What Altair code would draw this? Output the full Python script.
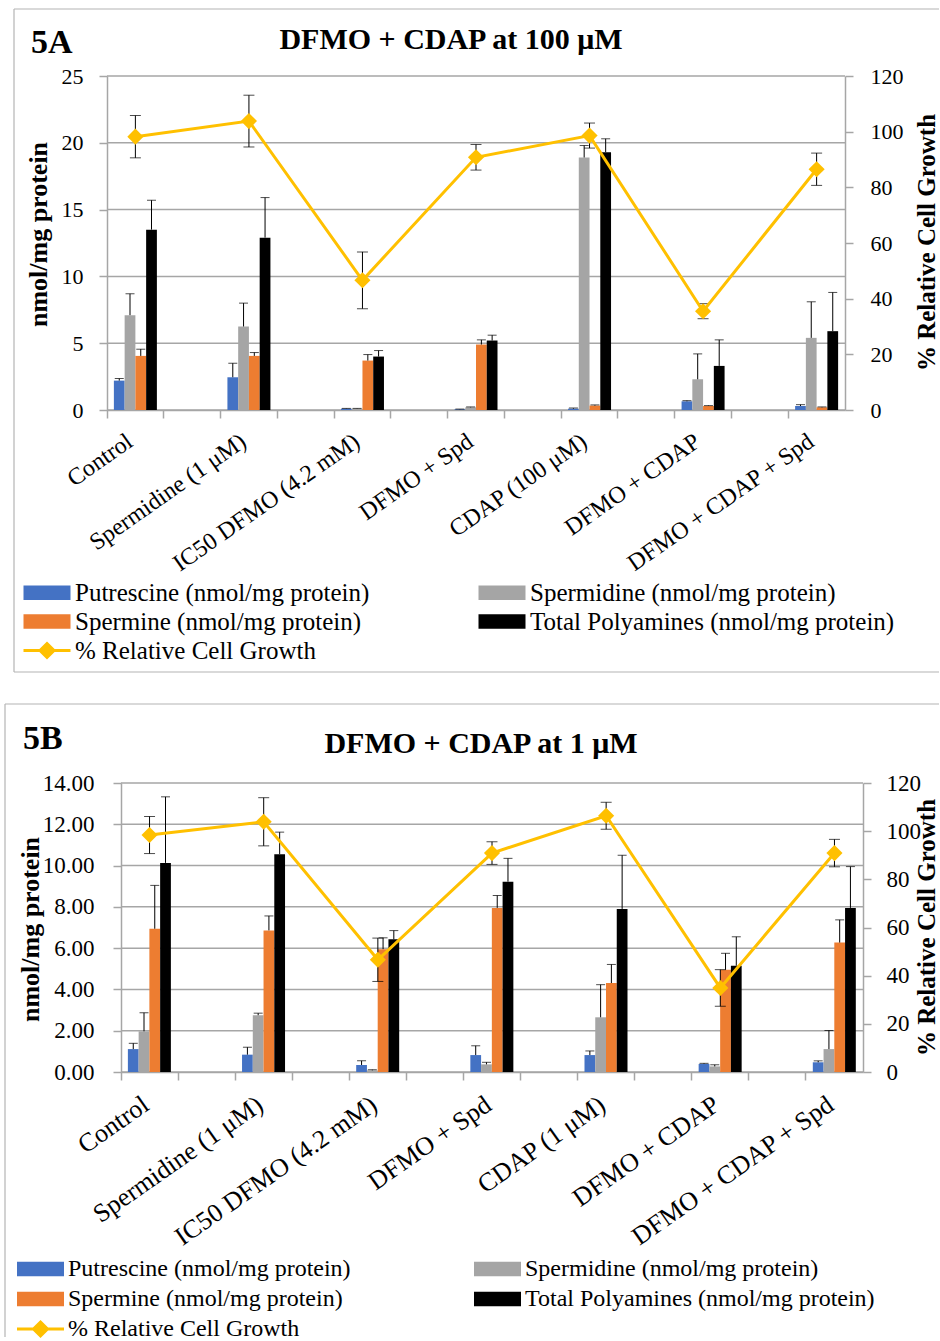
import altair as alt
import pandas as pd

# ---------------- data ----------------
SERIES = ["Putrescine (nmol/mg protein)", "Spermidine (nmol/mg protein)",
          "Spermine (nmol/mg protein)", "Total Polyamines (nmol/mg protein)"]
SERIES_COLORS = ["#4472C4", "#A5A5A5", "#ED7D31", "#000000"]
GROWTH_NAME = "% Relative Cell Growth"
LINE_COLOR = "#FFC000"

cats_a = ["Control", "Spermidine (1 μM)", "IC50 DFMO (4.2 mM)", "DFMO + Spd",
          "CDAP (100 μM)", "DFMO + CDAP", "DFMO + CDAP + Spd"]
a_put = [2.2, 2.45, 0.1, 0.05, 0.1, 0.65, 0.3]
a_put_err = [0.15, 1.05, 0.02, 0.02, 0.05, 0.05, 0.1]
a_spd = [7.1, 6.25, 0.1, 0.2, 18.9, 2.3, 5.4]
a_spd_err = [1.6, 1.75, 0.02, 0.03, 0.9, 1.9, 2.7]
a_spm = [4.05, 4.05, 3.7, 4.9, 0.33, 0.3, 0.2]
a_spm_err = [0.5, 0.25, 0.45, 0.35, 0.05, 0.03, 0.03]
a_tot = [13.5, 12.9, 4.0, 5.2, 19.3, 3.3, 5.9]
a_tot_err = [2.2, 3.0, 0.45, 0.4, 1.0, 1.95, 2.9]
a_growth = [98.2, 103.8, 46.6, 90.8, 98.6, 35.5, 86.5]
a_growth_err = [7.6, 9.3, 10.2, 4.6, 4.5, 2.7, 5.8]

cats_b = ["Control", "Spermidine (1 μM)", "IC50 DFMO (4.2 mM)", "DFMO + Spd",
          "CDAP (1 μM)", "DFMO + CDAP", "DFMO + CDAP + Spd"]
b_put = [1.11, 0.84, 0.34, 0.82, 0.82, 0.39, 0.47]
b_put_err = [0.28, 0.36, 0.2, 0.45, 0.2, 0.03, 0.07]
b_spd = [1.97, 2.75, 0.08, 0.37, 2.65, 0.27, 1.11]
b_spd_err = [0.9, 0.1, 0.03, 0.1, 1.58, 0.08, 0.9]
b_spm = [6.94, 6.86, 5.95, 7.95, 4.31, 4.95, 6.27]
b_spm_err = [2.1, 0.7, 0.55, 0.6, 0.9, 0.8, 1.1]
b_tot = [10.13, 10.55, 6.43, 9.22, 7.9, 5.15, 7.95]
b_tot_err = [3.2, 1.07, 0.42, 1.13, 2.6, 1.4, 2.0]
b_growth = [98.4, 103.9, 46.6, 90.9, 106.4, 34.9, 90.9]
b_growth_err = [7.7, 10.0, 9.0, 4.7, 5.6, 7.6, 5.7]

a_left_ticks = [0, 5, 10, 15, 20, 25]
b_left_ticks = [0, 2, 4, 6, 8, 10, 12, 14]
right_ticks = [0, 20, 40, 60, 80, 100, 120]

# ---------------- style ----------------
FONT = "Liberation Serif"
GRAY = "#A6A6A6"
FRAME = "#B4B4B4"
BAR_PATH = "M-1,-0.72H3.7V0.72H-1Z"
LINE_PATH = "M-1,0H3.7M1.35,-0.7L2.05,0L1.35,0.7L0.65,0Z"
ORIGIN_X = 106  # common left edge of the view groups on the page


def bar_frame(cats, vals_list, errs_list):
    rows = []
    for s, vals, errs in zip(SERIES, vals_list, errs_list):
        for c, v, e in zip(cats, vals, errs):
            rows.append({"cat": c, "series": s, "value": v, "err": e, "hi": v + e})
    return pd.DataFrame(rows)


def growth_frame(cats, g, ge):
    return pd.DataFrame({"cat": cats, "name": GROWTH_NAME, "growth": g,
                         "lo": [a - b for a, b in zip(g, ge)],
                         "hi": [a + b for a, b in zip(g, ge)]})


def one():
    return pd.DataFrame({"k": [0]})


def panel(geo, cats, bars_df, gdf, y_max, y_ticks, y_fmt, letter, title):
    ox, oy, w, h = geo["ox"], geo["oy"], geo["w"], geo["h"]
    shift = ox - ORIGIN_X
    vw = w + shift

    def px(v):
        return v - ORIGIN_X

    def py(v):
        return v - oy

    domain = []
    for i, c in enumerate(cats):
        domain.append(c)
        if i < len(cats) - 1:
            domain.append("gap%d" % i)

    x_axis = alt.Axis(bandPosition=0, labelExpr="indexof(datum.label,'gap')===0 ? '' : datum.label",
                      labelAngle=325, labelFont=FONT, labelFontSize=geo["xfs"], labelColor="black",
                      labelPadding=geo["xpad"], labelOffset=geo["xoff"], labelLimit=500, labelOverlap=False,
                      tickColor=GRAY, tickSize=8, tickWidth=1.5, domainColor=GRAY, domainWidth=1.5,
                      grid=False, title=None)
    x_scale = alt.Scale(domain=domain, range=[shift, vw], paddingInner=0, paddingOuter=0)

    def X():
        return alt.X("cat:N", scale=x_scale, axis=x_axis, title=None)

    xoff = alt.XOffset("series:N", scale=alt.Scale(domain=SERIES, paddingInner=0, paddingOuter=0.64))

    ly_scale = alt.Scale(domain=[0, y_max], nice=False, zero=True)
    ly_axis = alt.Axis(orient="left", offset=-shift, values=y_ticks, format=y_fmt, title="nmol/mg protein",
                       titleFont=FONT, titleFontSize=26, titleFontWeight="bold", titleColor="black",
                       titleAngle=270, titleX=geo["ltx"] - ox, titleY=geo["lty"] - oy, titleAlign="center",
                       titleBaseline="middle",
                       labelFont=FONT, labelFontSize=geo["yfs"], labelColor="black",
                       labelPadding=geo["lpad"], tickColor=GRAY, tickSize=8, tickWidth=1.5,
                       domainColor=GRAY, domainWidth=1.5, grid=False)
    ry_scale = alt.Scale(domain=[0, 120], nice=False, zero=True)
    ry_axis = alt.Axis(orient="right", values=right_ticks, format="d", title=GROWTH_NAME,
                       titleFont=FONT, titleFontSize=25, titleFontWeight="bold", titleColor="black",
                       titleAngle=270, titleX=geo["rtx"] - ox - w, titleY=geo["rty"] - oy, titleAlign="center",
                       titleBaseline="middle",
                       labelFont=FONT, labelFontSize=geo["yfs"], labelColor="black",
                       labelPadding=geo["rpad"], tickColor=GRAY, tickSize=8, tickWidth=1.5,
                       domainColor=GRAY, domainWidth=1.5, grid=False)

    def LY(f):
        return alt.Y(f, scale=ly_scale, axis=ly_axis, title="nmol/mg protein")

    def RY(f):
        return alt.Y(f, scale=ry_scale, axis=ry_axis, title=GROWTH_NAME)

    errs = bars_df[bars_df["err"] > 0]
    grid_df = pd.DataFrame({"tick": y_ticks})

    grid = alt.Chart(grid_df).mark_rule(color=GRAY, strokeWidth=1.5).encode(
        y=LY("tick:Q"), x=alt.value(shift), x2=alt.value(vw))

    bars = alt.Chart(bars_df).mark_bar().encode(
        x=X(), xOffset=xoff, y=LY("value:Q"),
        color=alt.Color("series:N", scale=alt.Scale(domain=SERIES, range=SERIES_COLORS),
                        legend=alt.Legend(orient="none", legendX=px(geo["lgx"]), legendY=py(geo["lgy"]),
                                          columns=2, direction="horizontal", title=None,
                                          symbolType=BAR_PATH, symbolSize=400,
                                          symbolStrokeWidth=0, symbolOpacity=1, labelFont=FONT,
                                          labelFontSize=geo["lfs"], labelColor="black", labelLimit=600,
                                          labelOffset=29, columnPadding=geo["colpad"],
                                          rowPadding=geo["rowpad"], padding=0)))
    bar_err = alt.Chart(errs).mark_rule(color="black", strokeWidth=1).encode(
        x=X(), xOffset=xoff, y=LY("value:Q"), y2="hi:Q")
    bar_cap = alt.Chart(errs).mark_tick(color="black", thickness=1, size=9).encode(
        x=X(), xOffset=xoff, y=LY("hi:Q"))

    # chart-area frame and page-bound helpers (pixel layout)
    fl, ft, fb = px(geo["fl"]), py(geo["ft"]), py(geo["fb"])
    fr = px(938)
    frame_parts = [
        alt.Chart(one()).mark_rule(color=FRAME, strokeWidth=1.2).encode(
            x=alt.value(fl), x2=alt.value(fr), y=alt.value(ft), y2=alt.value(ft)),
        alt.Chart(one()).mark_rule(color=FRAME, strokeWidth=1.2).encode(
            x=alt.value(fl), x2=alt.value(fl), y=alt.value(ft), y2=alt.value(fb)),
        alt.Chart(one()).mark_rule(color="white", strokeWidth=0.5).encode(
            x=alt.value(px(0)), x2=alt.value(px(0)), y=alt.value(py(geo["top"])),
            y2=alt.value(py(geo["bottom"]))),
    ]
    if geo.get("fbottom", False):
        frame_parts.append(alt.Chart(one()).mark_rule(color=FRAME, strokeWidth=1.2).encode(
            x=alt.value(fl), x2=alt.value(fr), y=alt.value(fb), y2=alt.value(fb)))

    letter_t = alt.Chart(one()).mark_text(text=letter, font=FONT, fontSize=34, fontWeight="bold",
                                          align="left", baseline="alphabetic", color="black").encode(
        x=alt.value(px(geo["lx"])), y=alt.value(py(geo["ly"])))
    title_t = alt.Chart(one()).mark_text(text=title, font=FONT, fontSize=30, fontWeight="bold",
                                         align="center", baseline="alphabetic", color="black").encode(
        x=alt.value(px(geo["tx"])), y=alt.value(py(geo["ty"])))

    left = alt.layer(*frame_parts, grid, bars, bar_err, bar_cap, letter_t, title_t)

    g_err = alt.Chart(gdf).mark_rule(color="black", strokeWidth=1).encode(
        x=X(), y=RY("lo:Q"), y2="hi:Q")
    g_cap_hi = alt.Chart(gdf).mark_tick(color="black", thickness=1, size=11).encode(
        x=X(), y=RY("hi:Q"))
    g_cap_lo = alt.Chart(gdf).mark_tick(color="black", thickness=1, size=11).encode(
        x=X(), y=RY("lo:Q"))
    g_line = alt.Chart(gdf).mark_line(strokeWidth=3).encode(
        x=X(), y=RY("growth:Q"),
        stroke=alt.Stroke("name:N", scale=alt.Scale(domain=[GROWTH_NAME], range=[LINE_COLOR]),
                          legend=alt.Legend(orient="none", legendX=px(geo["lgx"]),
                                            legendY=py(geo["lg3y"]), title=None,
                                            symbolType=LINE_PATH, symbolSize=400, symbolStrokeWidth=3,
                                            symbolFillColor=LINE_COLOR, labelFont=FONT,
                                            labelFontSize=geo["lfs"],
                                            labelColor="black", labelLimit=600, labelOffset=29,
                                            padding=0)))
    g_pts = alt.Chart(gdf).mark_point(shape="diamond", filled=True, size=260, color=LINE_COLOR,
                                      opacity=1).encode(x=X(), y=RY("growth:Q"))
    right = alt.layer(g_err, g_cap_hi, g_cap_lo, g_line, g_pts)

    return alt.layer(left, right).resolve_scale(y="independent").properties(width=vw, height=h)


geo_a = dict(ox=106, oy=77, w=738, h=334, fl=13, ft=10, fb=673, fbottom=True, top=2, bottom=688,
             lx=30, ly=54, tx=450, ty=50, ltx=37, lty=235, rtx=925, rty=243, lpad=16, rpad=17,
             yfs=22, xfs=24, xpad=11, xoff=-12,
             lgx=20, lgy=581, lg3y=639, colpad=106, lfs=25, rowpad=3)
geo_b = dict(ox=120, oy=784, w=742, h=289, fl=4, ft=705, fb=1338, fbottom=False, top=690, bottom=1338,
             lx=22, ly=750, tx=480, ty=754, ltx=29, lty=930, rtx=925, rty=928, lpad=19, rpad=15,
             yfs=23, xfs=26, xpad=11, xoff=-11,
             lgx=14, lgy=1258, lg3y=1318, colpad=121, lfs=24, rowpad=6)

chart_a = panel(geo_a, cats_a,
                bar_frame(cats_a, [a_put, a_spd, a_spm, a_tot], [a_put_err, a_spd_err, a_spm_err, a_tot_err]),
                growth_frame(cats_a, a_growth, a_growth_err), 25, a_left_ticks, "d", "5A",
                "DFMO + CDAP at 100 μM")
chart_b = panel(geo_b, cats_b,
                bar_frame(cats_b, [b_put, b_spd, b_spm, b_tot], [b_put_err, b_spd_err, b_spm_err, b_tot_err]),
                growth_frame(cats_b, b_growth, b_growth_err), 14, b_left_ticks, ".2f", "5B",
                "DFMO + CDAP at 1 μM")

chart = alt.vconcat(chart_a, chart_b, spacing=0).resolve_scale(
    color="independent", stroke="independent").resolve_legend(
    color="independent", stroke="independent").properties(padding=0).configure(
    font=FONT).configure_view(strokeWidth=0)

chart.save("out.html", embed_options={"renderer": "svg", "actions": False})
